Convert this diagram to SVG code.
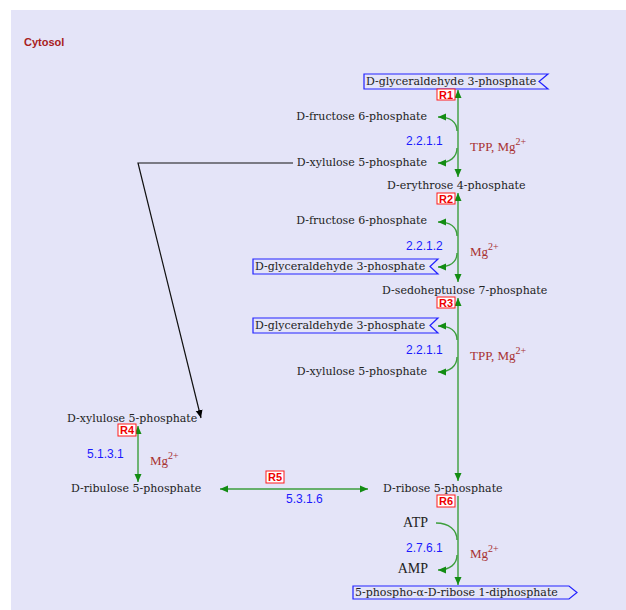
<svg xmlns="http://www.w3.org/2000/svg" width="626" height="610" viewBox="0 0 626 610">
<style>
.m{font-family:"DejaVu Serif","Liberation Serif",serif;font-size:11px;fill:#222}
.n{font-family:"Liberation Serif","DejaVu Serif",serif;font-size:14px;fill:#222}
.e{font-family:"Liberation Sans",Arial,sans-serif;font-size:12px;fill:#1a1aff}
.c{font-family:"Liberation Serif","DejaVu Serif",serif;font-size:13px;fill:#a83232}
.rb{fill:#fff;stroke:#ff1a1a;stroke-width:1}
.rt{font-family:"Liberation Sans",Arial,sans-serif;font-size:11px;font-weight:bold;fill:#ee0000;text-anchor:middle}
.bx{fill:none;stroke:#2222ff;stroke-width:1.2}
.g{fill:none;stroke:#3c9e3c;stroke-width:1.4}
.gb{marker-start:url(#ga);marker-end:url(#ga)}
.ge{marker-end:url(#ga)}
</style>
<defs>
<marker id="ga" viewBox="0 0 8 8" refX="8" refY="4" markerWidth="8" markerHeight="8" markerUnits="userSpaceOnUse" orient="auto-start-reverse">
<path d="M0,0.5 L8,4 L0,7.5 Z" fill="#138c13"/>
</marker>
<marker id="ka" viewBox="0 0 8 8" refX="8" refY="4" markerWidth="8" markerHeight="8" markerUnits="userSpaceOnUse" orient="auto">
<path d="M0,0.5 L8,4 L0,7.5 Z" fill="#000"/>
</marker>
</defs>
<rect x="11" y="10" width="615" height="600" fill="#e4e4f8"/>
<text x="24" y="46" style="font-family:'Liberation Sans',Arial,sans-serif;font-size:11px;font-weight:bold;fill:#a82020">Cytosol</text>

<g id="connectors">
<path class="g gb" d="M458,90 L458,177"/>
<path class="g ge" d="M457,131 C457,122 450,117 438,117"/>
<path class="g ge" d="M457,148 C457,157 450,163 438,163"/>
<path class="g gb" d="M458,193 L458,282"/>
<path class="g ge" d="M457,236 C457,227 450,222 438,222"/>
<path class="g ge" d="M457,253 C457,262 450,267 438,267"/>
<path class="g gb" d="M458,298 L458,481"/>
<path class="g ge" d="M457,340 C457,331 450,326 438,326"/>
<path class="g ge" d="M457,357 C457,366 450,372 438,372"/>
<path class="g gb" d="M138,426 L138,482"/>
<path class="g gb" d="M220,489 L368,489"/>
<path class="g ge" d="M458,496 L458,585"/>
<path class="g" d="M436,523 C449,523 457,530 457,540"/>
<path class="g ge" d="M457,555 C457,564 450,570 438,570"/>
<path d="M293,163 L138,163 L201,418" fill="none" stroke="#111" stroke-width="1.2" marker-end="url(#ka)"/>
</g>

<g id="g3p_top">
<path class="bx" d="M364,74 L548,74 L539,81.5 L548,89 L364,89 Z"/>
<text class="m" x="366" y="85">D-glyceraldehyde 3-phosphate</text>
</g>
<g id="R1"><rect class="rb" x="437" y="89" width="18" height="11"/><text class="rt" x="446" y="99">R1</text></g>
<g id="f6p_1"><text class="m" x="427" y="120" text-anchor="end">D-fructose 6-phosphate</text></g>
<g id="xu5p_1"><text class="m" x="427" y="166" text-anchor="end">D-xylulose 5-phosphate</text></g>
<g id="ec_r1"><text class="e" x="406" y="145">2.2.1.1</text></g>
<g id="cof_r1"><text class="c" x="470" y="151">TPP, Mg<tspan dy="-6" font-size="10">2+</tspan></text></g>

<g id="e4p"><text class="m" x="387" y="189">D-erythrose 4-phosphate</text></g>
<g id="R2"><rect class="rb" x="437" y="193" width="18" height="11"/><text class="rt" x="446" y="203">R2</text></g>
<g id="f6p_2"><text class="m" x="427" y="224" text-anchor="end">D-fructose 6-phosphate</text></g>
<g id="ec_r2"><text class="e" x="406" y="250">2.2.1.2</text></g>
<g id="cof_r2"><text class="c" x="470" y="256">Mg<tspan dy="-6" font-size="10">2+</tspan></text></g>
<g id="g3p_2">
<path class="bx" d="M253,259 L438,259 L430,266.5 L438,274 L253,274 Z"/>
<text class="m" x="255" y="270">D-glyceraldehyde 3-phosphate</text>
</g>

<g id="s7p"><text class="m" x="382" y="294">D-sedoheptulose 7-phosphate</text></g>
<g id="R3"><rect class="rb" x="437" y="297" width="18" height="11"/><text class="rt" x="446" y="307">R3</text></g>
<g id="g3p_3">
<path class="bx" d="M253,318 L438,318 L430,325.5 L438,333 L253,333 Z"/>
<text class="m" x="255" y="329">D-glyceraldehyde 3-phosphate</text>
</g>
<g id="ec_r3"><text class="e" x="406" y="354">2.2.1.1</text></g>
<g id="cof_r3"><text class="c" x="470" y="360">TPP, Mg<tspan dy="-6" font-size="10">2+</tspan></text></g>
<g id="xu5p_3"><text class="m" x="427" y="375" text-anchor="end">D-xylulose 5-phosphate</text></g>

<g id="xu5p_4"><text class="m" x="67" y="422">D-xylulose 5-phosphate</text></g>
<g id="R4"><rect class="rb" x="118" y="424" width="18" height="12"/><text class="rt" x="127" y="434">R4</text></g>
<g id="ec_r4"><text class="e" x="87" y="458">5.1.3.1</text></g>
<g id="cof_r4"><text class="c" x="150" y="465">Mg<tspan dy="-6" font-size="10">2+</tspan></text></g>
<g id="ru5p"><text class="m" x="71" y="492">D-ribulose 5-phosphate</text></g>

<g id="R5"><rect class="rb" x="266" y="471" width="18" height="12"/><text class="rt" x="275" y="481">R5</text></g>
<g id="ec_r5"><text class="e" x="286" y="503">5.3.1.6</text></g>

<g id="r5p"><text class="m" x="383" y="492">D-ribose 5-phosphate</text></g>
<g id="R6"><rect class="rb" x="437" y="495" width="18" height="12"/><text class="rt" x="446" y="505">R6</text></g>
<g id="atp"><text class="n" x="428" y="527" text-anchor="end">ATP</text></g>
<g id="ec_r6"><text class="e" x="406" y="552">2.7.6.1</text></g>
<g id="cof_r6"><text class="c" x="470" y="558">Mg<tspan dy="-6" font-size="10">2+</tspan></text></g>
<g id="amp"><text class="n" x="428" y="573" text-anchor="end">AMP</text></g>
<g id="prpp">
<path class="bx" d="M353,586 L569,586 L577,592.5 L569,599 L353,599 Z"/>
<text class="m" x="355" y="596">5-phospho-α-D-ribose 1-diphosphate</text>
</g>
</svg>
